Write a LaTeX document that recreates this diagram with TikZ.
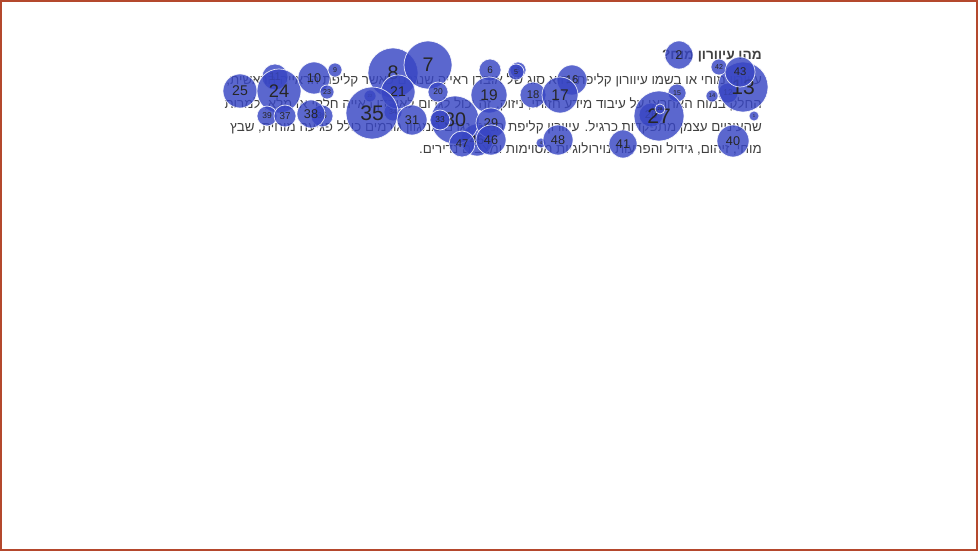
\documentclass[tikz,border=0pt]{standalone}
\usepackage{fontspec}
\setmainfont{Liberation Sans}
\newfontfamily\hebfont[Script=Hebrew]{Liberation Sans}
\TeXXeTstate=1
\usetikzlibrary{backgrounds}

\definecolor{bubblue}{RGB}{56,70,196}
\definecolor{edgeblue}{RGB}{80,94,212}
\definecolor{framered}{RGB}{180,72,45}
\definecolor{textgray}{RGB}{64,64,64}

\tikzset{
  bub/.style={circle, inner sep=0pt, fill=bubblue, fill opacity=0.82,
    draw=white, draw opacity=0.85, line width=0.5pt, text opacity=1,
    text=black!85, minimum size=#1*0.05cm},
  fs/.style={font=\fontsize{#1}{#1}\selectfont},
  link/.style={draw=edgeblue, line width=0.9pt},
  heb/.style={anchor=base east, inner sep=0pt, text=textgray,
    font=\hebfont\fontsize{9.5}{12}\selectfont}
}

\begin{document}
\begin{tikzpicture}[x=0.025cm, y=-0.025cm]
    \useasboundingbox (0,0) rectangle (978,551);
    \fill[white] (0,0) rectangle (978,551);
    \draw[framered, line width=1.4pt] (1,1) rectangle (977,550);

    % text block
    \node[heb, font=\hebfont\bfseries\fontsize{9.7}{12}\selectfont] (title) at (762,60) {\beginR מהו עיוורון מוח?\endR};
    \node[heb] (line1) at (762,85) {\beginR עיוורון מוחי או בשמו עיוורון קליפתי הוא סוג של אובדן ראייה שנגרם כאשר קליפת הראייה הראשית,\endR};
    \node[heb] (line2) at (762,109) {\beginR החלק במוח האחראי על עיבוד מידע חזותי, ניזוק. זה יכול לגרום לאובדן ראייה חלקי או מלא, למרות\endR};
    \node[heb] (line3) at (762,132) {\beginR שהעיניים עצמן מתפקדות כרגיל. עיוורון קליפת המוח נגרם ממגוון גורמים כולל פגיעה מוחית, שבץ\endR};
    \node[heb] (line4) at (762,154) {\beginR מוחי, זיהום, גידול והפרעות נוירולוגיות מסוימות ומצבים נדירים.\endR};

    % bubbles
    \node[bub=8, fs=5] (n3) at (518,70) {3};
    \node[bub=10, fs=6] (n12) at (728,93) {12};
    \node[bub=12, fs=8] (n26) at (651,115) {26};
    \node[bub=9, fs=5] (n34) at (393,112) {34};
    \node[bub=11, fs=6] (n36) at (322,116) {36};
    \node[bub=16, fs=9] (n45) at (477,140) {45};
    \node[bub=13, fs=8] (n11) at (275,77) {11};
    \node[bub=15, fs=8] (n16) at (572,80) {16};
    \node[bub=25, fs=14] (n8) at (393,73) {8};
    \node[bub=24, fs=14] (n7) at (428,65) {7};
    \node[bub=17, fs=10] (n25) at (240,91) {25};
    \node[bub=22, fs=13] (n24) at (279,91) {24};
    \node[bub=16, fs=9] (n10) at (314,78) {10};
    \node[bub=7, fs=5] (n9) at (335,70) {9};
    \node[bub=7, fs=5] (n23) at (327,92) {23};
    \node[bub=6, fs=3] (n22) at (370,96) {22};
    \node[bub=17, fs=10] (n21) at (398,92) {21};
    \node[bub=26, fs=15] (n35) at (372,113) {35};
    \node[bub=10, fs=6] (n39) at (267,116) {39};
    \node[bub=11, fs=7] (n37) at (285,116) {37};
    \node[bub=14, fs=9] (n38) at (311,114) {38};
    \node[bub=15, fs=9] (n31) at (412,120) {31};
    \node[bub=24, fs=14] (n30) at (455,120) {30};
    \node[bub=10, fs=6] (n33) at (440,120) {33};
    \node[bub=10, fs=6] (n20) at (438,92) {20};
    \node[bub=11, fs=7] (n6) at (490,70) {6};
    \node[bub=8, fs=5] (n5) at (516,72) {5};
    \node[bub=18, fs=11] (n19) at (489,95) {19};
    \node[bub=13, fs=8] (n18) at (533,95) {18};
    \node[bub=18, fs=11] (n17) at (560,95) {17};
    \node[bub=15, fs=9] (n29) at (491,123) {29};
    \node[bub=13, fs=8] (n47) at (462,144) {47};
    \node[bub=15, fs=9] (n46) at (491,140) {46};
    \node[bub=5, fs=3] (n4) at (541,143) {4};
    \node[bub=15, fs=9] (n48) at (558,140) {48};
    \node[bub=14, fs=9] (n2) at (679,55) {2};
    \node[bub=25, fs=15] (n13) at (743,87) {13};
    \node[bub=8, fs=5] (n42) at (719,67) {42};
    \node[bub=15, fs=8] (n43) at (740,72) {43};
    \node[bub=6, fs=4] (n14) at (712,96) {14};
    \node[bub=9, fs=5] (n15) at (677,93) {15};
    \node[bub=5, fs=3] (n1) at (754,116) {1};
    \node[bub=25, fs=15] (n27) at (659,116) {27};
    \node[bub=5, fs=3] (n28) at (660,109) {28};
    \node[bub=14, fs=9] (n41) at (623,144) {41};
    \node[bub=16, fs=9] (n40) at (733,141) {40};

    % links
    \begin{pgfonlayer}{background}
    \draw[link] (n9) -- (n8);
    \draw[link] (n10) -- (n8);
    \draw[link] (n11) -- (n24);
    \draw[link] (n25) -- (n24);
    \draw[link] (n24) -- (n21);
    \draw[link] (n24) -- (n35);
    \draw[link] (n23) -- (n22);
    \draw[link] (n21) -- (n20);
    \draw[link] (n20) -- (n19);
    \draw[link] (n19) -- (n18);
    \draw[link] (n18) -- (n17);
    \draw[link] (n7) -- (n6);
    \draw[link] (n6) -- (n5);
    \draw[link] (n5) -- (n16);
    \draw[link] (n16) -- (n2);
    \draw[link] (n17) -- (n15);
    \draw[link] (n15) -- (n13);
    \draw[link] (n17) -- (n14);
    \draw[link] (n2) -- (n14);
    \draw[link] (n39) -- (n37);
    \draw[link] (n37) -- (n38);
    \draw[link] (n38) -- (n35);
    \draw[link] (n35) -- (n31);
    \draw[link] (n31) -- (n33);
    \draw[link] (n33) -- (n30);
    \draw[link] (n30) -- (n29);
    \draw[link] (n29) -- (n27);
    \draw[link] (n31) -- (n27);
    \draw[link] (n47) -- (n46);
    \draw[link] (n46) -- (n48);
    \draw[link] (n48) -- (n4);
    \draw[link] (n46) -- (n41);
    \draw[link] (n41) -- (n40);
    \draw[link] (n27) -- (n40);
    \draw[link] (n41) -- (n28);
    \draw[link] (n48) -- (n42);
    \draw[link] (n42) -- (n27);
    \end{pgfonlayer}
\end{tikzpicture}
\end{document}
